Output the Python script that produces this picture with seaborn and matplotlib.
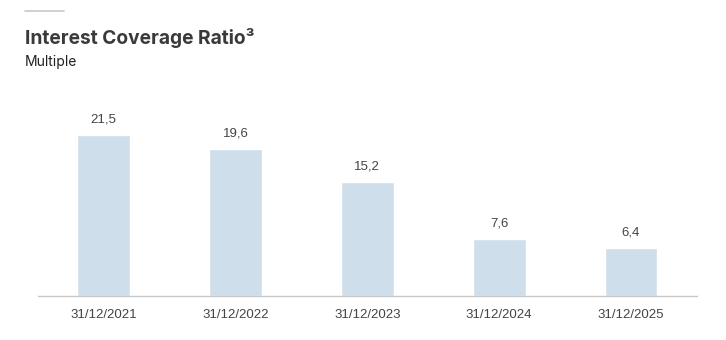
import matplotlib
matplotlib.use("Agg")
import matplotlib.pyplot as plt
import seaborn as sns
import pandas as pd

# chart values
dates = ["31/12/2021", "31/12/2022", "31/12/2023", "31/12/2024", "31/12/2025"]
ratio = [21.5, 19.6, 15.2, 7.6, 6.4]
value_labels = ["21,5", "19,6", "15,2", "7,6", "6,4"]

df = pd.DataFrame({"date": dates, "ratio": ratio})

sns.set_theme(style="white")
plt.rcParams['font.family'] = ['Liberation Sans', 'DejaVu Sans']

fig = plt.figure(figsize=(7.26, 3.4), dpi=100)
ax = fig.add_axes([0.052, 0.129, 0.908, 0.606])

sns.barplot(data=df, x="date", y="ratio", color="#cfdeeb", width=0.4,
            saturation=1, ax=ax)

for i, (v, lab) in enumerate(zip(ratio, value_labels)):
    ax.text(i, v + 1.3, lab, ha="center", va="bottom", fontsize=9.5, color="#444444")

ax.set_xlim(-0.5, 4.5)
ax.set_ylim(0, 27.5)
ax.set_xlabel("")
ax.set_ylabel("")
ax.set_yticks([])
ax.tick_params(axis="x", length=0, pad=9, labelsize=9.5, labelcolor="#444444")
for s in ["top", "right", "left"]:
    ax.spines[s].set_visible(False)
ax.spines["bottom"].set_color("#c8c8c8")
ax.spines["bottom"].set_linewidth(1)

# header
fig.add_artist(plt.Line2D([25 / 726, 64 / 726], [1 - 11 / 340, 1 - 11 / 340],
                          color="#c8c8c8", lw=1.2))
fig.text(25 / 726, 1 - 38 / 340, "Interest Coverage Ratio³", fontsize=13.8,
         fontweight="bold", color="#3a3a3a", va="center", ha="left",
         family=["Inter", "DejaVu Sans"])
fig.text(25 / 726, 1 - 62 / 340, "Multiple", fontsize=10, color="#222222",
         va="center", ha="left", family=["Inter", "DejaVu Sans"])

fig.savefig("out.png", dpi=100)
